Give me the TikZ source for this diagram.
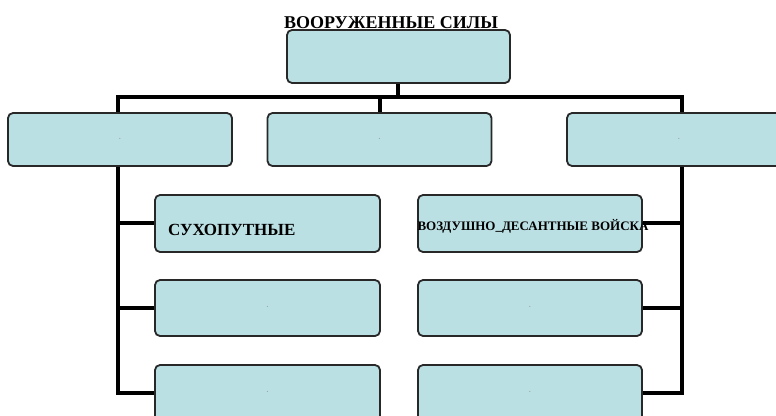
\documentclass[tikz,border=0pt]{standalone}
\usepackage{fontspec}
\setmainfont{Liberation Serif}
\definecolor{boxfill}{RGB}{187,224,227}
\definecolor{boxline}{RGB}{40,40,40}
\begin{document}
\begin{tikzpicture}[x=1pt, y=-1pt,
  blok/.style={draw=boxline, line width=1.8pt, fill=boxfill, rounded corners=5pt,
    minimum width=224pt, minimum height=54pt, inner sep=0pt, align=center},
  pusto/.style={blok, text=gray, font=\fontsize{8}{8}\selectfont},
  svyaz/.style={draw=black, line width=3.8pt},
  zag/.style={font=\fontsize{18}{20}\selectfont\bfseries}]
  \useasboundingbox (0,0) rectangle (776,415);
  \clip (0,0) rectangle (776,415);
  % bus points
  \coordinate (shina) at (398,97);
  % connectors
  \draw[svyaz] (398,83) -- (shina);
  \draw[svyaz] (118,113) |- (shina) -| (682,113);
  \draw[svyaz] (380,97) -- (380,113);
  \draw[svyaz] (118,166) |- (155,393);
  \draw[svyaz] (118,223) -- (155,223);
  \draw[svyaz] (118,308) -- (155,308);
  \draw[svyaz] (682,166) |- (642,393);
  \draw[svyaz] (682,223) -- (642,223);
  \draw[svyaz] (682,308) -- (642,308);
  % boxes
  \node[pusto, minimum width=223pt, minimum height=53pt] (vs) at (398.5,56.5) {};
  \node[pusto, minimum height=53pt] (vid1) at (120,139.5) {·};
  \node[pusto, minimum height=53pt] (vid2) at (379.5,139.5) {·};
  \node[pusto, minimum height=53pt] (vid3) at (679,139.5) {·};
  \node[blok, zag, font=\fontsize{17}{20}\selectfont\bfseries, minimum width=225pt, minimum height=57pt, text width=199pt, align=left] (suh) at (267.5,223.5) {\raisebox{-12pt}[0pt][0pt]{СУХОПУТНЫЕ}};
  \node[pusto, minimum width=225pt, minimum height=56pt] (lev2) at (267.5,308) {·};
  \node[pusto, minimum width=225pt, minimum height=56pt] (lev3) at (267.5,393) {·};
  \node[blok, minimum height=57pt] (vdv) at (530,223.5) {};
  \node[pusto, minimum height=56pt] (prav2) at (530,308) {·};
  \node[pusto, minimum height=56pt] (prav3) at (530,393) {·};
  % texts
  \node[zag, anchor=base] (nazv) at (391,28) {ВООРУЖЕННЫЕ СИЛЫ};
  \node[font=\fontsize{13}{15}\selectfont\bfseries] (vdvtxt) at (533,226) {ВОЗДУШНО\_ДЕСАНТНЫЕ ВОЙСКА};
\end{tikzpicture}
\end{document}
